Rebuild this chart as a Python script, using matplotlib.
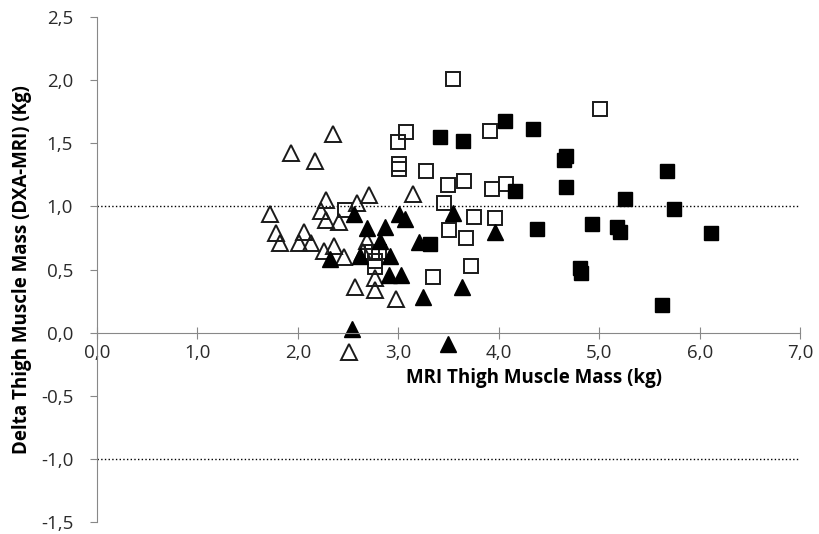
import matplotlib
matplotlib.use("Agg")
import matplotlib.pyplot as plt

plt.rcParams['font.family'] = ['Open Sans', 'DejaVu Sans']

# open triangles
tri_open_x = [1.72, 1.78, 1.82, 1.93, 2.01, 2.06, 2.13, 2.17, 2.23, 2.26, 2.28, 2.28, 2.35, 2.36,
              2.41, 2.46, 2.51, 2.57, 2.59, 2.65, 2.69, 2.71, 2.77, 2.77, 2.98, 3.15]
tri_open_y = [0.94, 0.79, 0.71, 1.42, 0.71, 0.80, 0.71, 1.36, 0.96, 0.65, 1.05, 0.89, 1.57, 0.69,
              0.88, 0.60, -0.15, 0.36, 1.03, 0.64, 0.73, 1.09, 0.43, 0.34, 0.27, 1.10]

# filled triangles
tri_fill_x = [2.32, 2.54, 2.56, 2.62, 2.69, 2.82, 2.87, 2.91, 2.92, 3.01, 3.03, 3.07, 3.21, 3.25,
              3.49, 3.54, 3.63, 3.96]
tri_fill_y = [0.58, 0.03, 0.94, 0.61, 0.83, 0.73, 0.84, 0.46, 0.61, 0.94, 0.46, 0.90, 0.72, 0.28,
              -0.09, 0.95, 0.36, 0.80]

# open squares
sq_open_x = [2.47, 2.74, 2.77, 2.77, 2.81, 3.00, 3.01, 3.01, 3.08, 3.28, 3.35, 3.45, 3.49, 3.50,
             3.54, 3.65, 3.67, 3.72, 3.75, 3.91, 3.93, 3.96, 4.07, 5.01]
sq_open_y = [0.97, 0.64, 0.57, 0.52, 0.64, 1.51, 1.34, 1.30, 1.59, 1.28, 0.44, 1.03, 1.17, 0.81,
             2.01, 1.20, 0.75, 0.53, 0.92, 1.60, 1.14, 0.91, 1.18, 1.77]

# filled squares
sq_fill_x = [3.32, 3.42, 3.64, 4.06, 4.16, 4.34, 4.38, 4.65, 4.67, 4.67, 4.81, 4.82, 4.93, 5.18,
             5.21, 5.26, 5.62, 5.67, 5.74, 6.11]
sq_fill_y = [0.70, 1.55, 1.52, 1.68, 1.12, 1.61, 0.82, 1.37, 1.40, 1.15, 0.51, 0.47, 0.86, 0.84,
             0.80, 1.06, 0.22, 1.28, 0.98, 0.79]

xticks = [0, 1, 2, 3, 4, 5, 6, 7]
yticks = [-1.5, -1.0, -0.5, 0.0, 0.5, 1.0, 1.5, 2.0, 2.5]

fig = plt.figure(figsize=(8.2, 5.34), dpi=100)
ax = fig.add_axes([0.118, 0.0225, 0.858, 0.9455])

# limits of agreement
ax.plot([0, 7], [1, 1], ls=':', c='black', lw=1)
ax.plot([0, 7], [-1, -1], ls=':', c='black', lw=1)

ax.plot(tri_open_x, tri_open_y, '^', ms=11, mfc='none', mec='#1a1a1a', mew=1.4, ls='none')
ax.plot(sq_open_x, sq_open_y, 's', ms=9.5, mfc='none', mec='#1a1a1a', mew=1.4, ls='none')
ax.plot(tri_fill_x, tri_fill_y, '^', ms=11, mfc='black', mec='black', ls='none')
ax.plot(sq_fill_x, sq_fill_y, 's', ms=9.5, mfc='black', mec='black', ls='none')

ax.set_xlim(0, 7)
ax.set_ylim(-1.5, 2.5)
ax.set_xticks(xticks)
ax.set_yticks(yticks)
ax.set_xticklabels([('%.1f' % v).replace('.', ',') for v in xticks])
ax.set_yticklabels([('%.1f' % v).replace('.', ',') for v in yticks])

for s in ['top', 'right']:
    ax.spines[s].set_visible(False)
ax.spines['bottom'].set_position(('data', 0))
ax.spines['bottom'].set_color('#888888')
ax.spines['left'].set_color('#888888')
ax.tick_params(axis='x', direction='inout', length=9, color='#888888', labelsize=13.5,
               labelcolor='#2a2a2a', pad=4)
ax.tick_params(axis='y', direction='out', length=5, color='#888888', labelsize=13.5,
               labelcolor='#2a2a2a', pad=12)

ax.set_ylabel('Delta Thigh Muscle Mass (DXA-MRI) (Kg)', fontsize=13.5, fontweight='bold', labelpad=6)
ax.text(4.35, -0.36, 'MRI Thigh Muscle Mass (kg)', fontsize=13.5, fontweight='bold',
        ha='center', va='center')

fig.savefig('out.png', dpi=100)
